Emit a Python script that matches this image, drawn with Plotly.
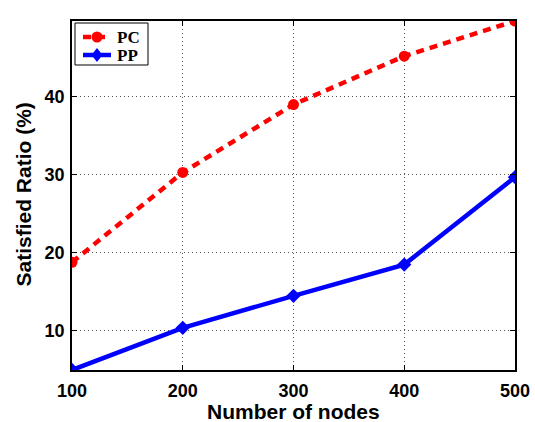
import plotly.graph_objects as go

nodes = [100, 200, 300, 400, 500]
pc_ratio = [18.8, 30.3, 39.0, 45.2, 49.7]
pp_ratio = [5.0, 10.4, 14.5, 18.5, 29.7]
x_ticks = [100, 200, 300, 400, 500]
y_ticks = [10, 20, 30, 40]

SANS = "Liberation Sans, Arial, Helvetica, sans-serif"
SERIF = "Liberation Serif, Times New Roman, serif"
RED = "#ff0000"
BLUE = "#0000ff"
PC_DASH = "8px,6px"

W, H = 535, 422
M = dict(l=72, r=20, t=21, b=52)
PW = W - M["l"] - M["r"]
PH = H - M["t"] - M["b"]


def px_x(px):
    """Page pixel x -> paper coordinate."""
    return (px - M["l"]) / PW


def px_y(py):
    """Page pixel y -> paper coordinate."""
    return (H - M["b"] - py) / PH


fig = go.Figure()
fig.add_trace(go.Scatter(
    x=nodes, y=pc_ratio, name="PC", mode="lines+markers",
    line=dict(color=RED, width=4.5, dash=PC_DASH),
    marker=dict(symbol="circle", size=11, color=RED),
    showlegend=False,
))
fig.add_trace(go.Scatter(
    x=nodes, y=pp_ratio, name="PP", mode="lines+markers",
    line=dict(color=BLUE, width=4.5),
    marker=dict(symbol="diamond", size=11, color=BLUE),
    showlegend=False,
))

axis_common = dict(
    showline=True, linecolor="black", linewidth=1.5, mirror="ticks",
    ticks="inside", ticklen=5, tickcolor="black", tickwidth=1,
    showgrid=True, gridcolor="#555555", griddash="1px,3px", gridwidth=1,
    zeroline=False, automargin=False,
    tickfont=dict(family=SANS, size=18, color="black", weight="bold"),
)

fig.update_xaxes(range=[100, 500], tickvals=x_ticks, ticklabelstandoff=4, **axis_common)
fig.update_yaxes(range=[5, 49.7], tickvals=y_ticks, ticklabelstandoff=2, **axis_common)

title_font = dict(family=SANS, size=21, color="black", weight="bold")
fig.add_annotation(
    text="Number of nodes", xref="paper", yref="paper",
    x=0.5, y=-0.118, xanchor="center", yanchor="middle",
    showarrow=False, font=title_font,
)
fig.add_annotation(
    text="Satisfied Ratio (%)", xref="paper", yref="paper",
    x=-0.109, y=0.502, xanchor="center", yanchor="middle",
    textangle=-90, showarrow=False, font=title_font,
)

# Legend box in the upper-left corner, drawn with shapes and text
shapes = [dict(
    type="rect", xref="paper", yref="paper",
    x0=px_x(75), x1=px_x(148), y0=px_y(65), y1=px_y(23),
    line=dict(color="black", width=1), fillcolor="white", layer="above",
)]
legend_rows = [("PC", 37, RED, PC_DASH, "circle"), ("PP", 55, BLUE, "solid", "diamond")]
for label, row_y, color, dash, sym in legend_rows:
    shapes.append(dict(
        type="line", xref="paper", yref="paper",
        x0=px_x(83), x1=px_x(111), y0=px_y(row_y), y1=px_y(row_y),
        line=dict(color=color, width=4.5, dash=dash), layer="above",
    ))
    cx = 97
    if sym == "circle":
        shapes.append(dict(
            type="circle", xref="paper", yref="paper",
            x0=px_x(cx - 5.5), x1=px_x(cx + 5.5),
            y0=px_y(row_y + 5.5), y1=px_y(row_y - 5.5),
            line=dict(width=0), fillcolor=color, layer="above",
        ))
    else:
        pts = [(cx, row_y - 7), (cx + 5.5, row_y), (cx, row_y + 7), (cx - 5.5, row_y)]
        path = "M " + " L ".join(f"{px_x(a):.5f},{px_y(b):.5f}" for a, b in pts) + " Z"
        shapes.append(dict(
            type="path", xref="paper", yref="paper", path=path,
            line=dict(width=0), fillcolor=color, layer="above",
        ))
    fig.add_annotation(
        text=f"<b>{label}</b>", xref="paper", yref="paper",
        x=px_x(115), y=px_y(row_y), xanchor="left", yanchor="middle",
        showarrow=False, font=dict(family=SERIF, size=17, color="black"),
    )

fig.update_layout(
    width=W, height=H, margin=M,
    plot_bgcolor="white", paper_bgcolor="white",
    showlegend=False, shapes=shapes,
)

fig.write_html("out.html")
